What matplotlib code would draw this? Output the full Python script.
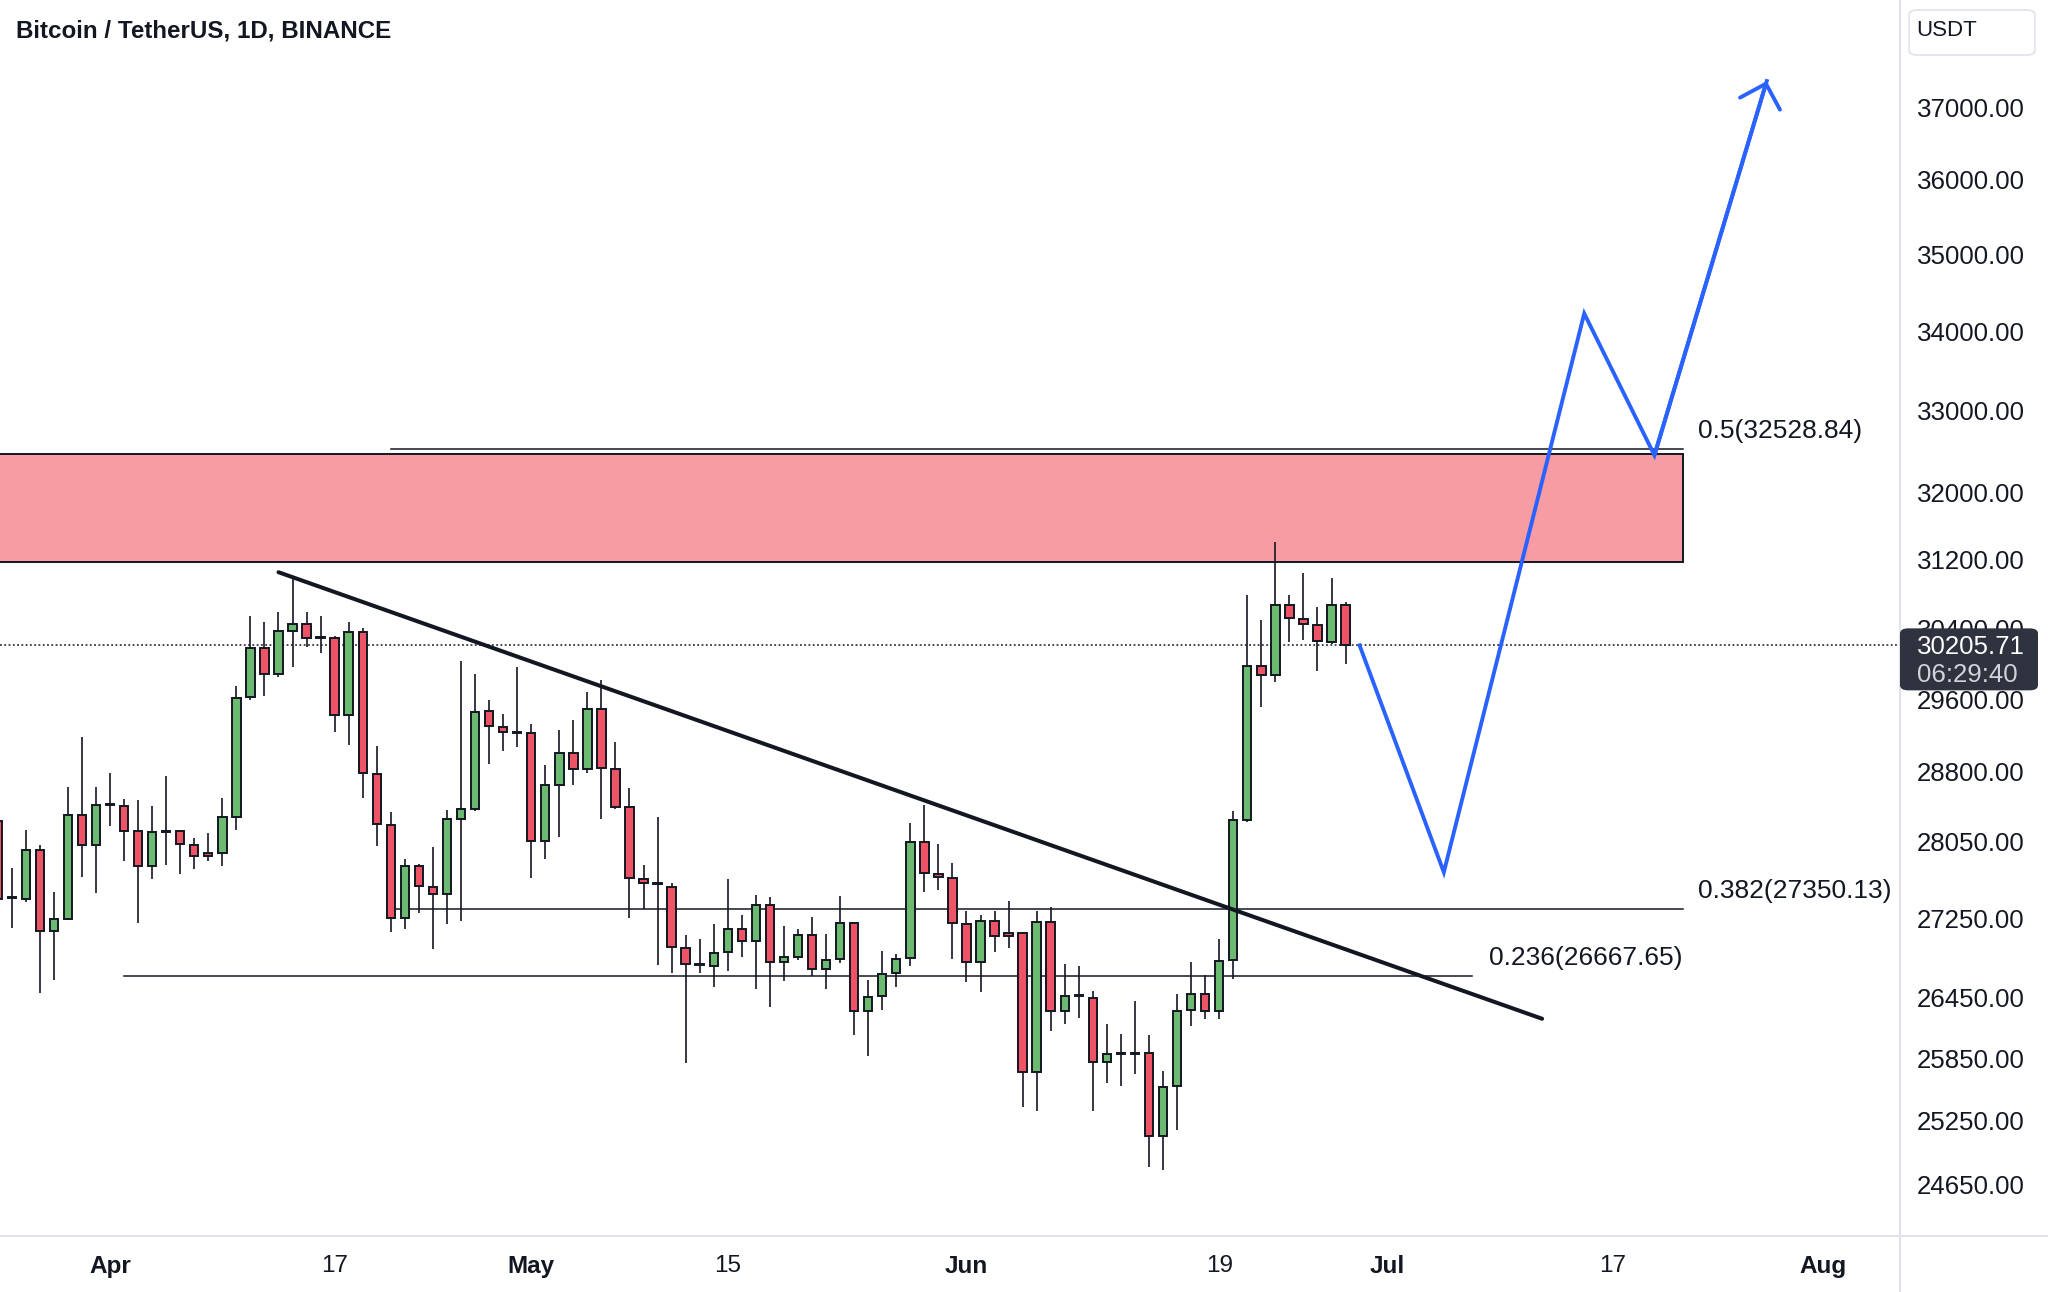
import numpy as np
import pandas as pd
import matplotlib
matplotlib.use('Agg')
import matplotlib.pyplot as plt
import matplotlib.dates as mdates
import matplotlib.ticker as mticker
from matplotlib.patches import Rectangle, FancyBboxPatch
from matplotlib.lines import Line2D

plt.rcParams['font.family'] = ['Liberation Sans', 'DejaVu Sans']

# daily candles, BTC/USDT
dates = pd.date_range('2023-03-24', '2023-06-28', freq='D')
opens = [28270, 27460, 27450, 27960, 27120, 27250, 28330, 28020, 28440, 28430,
         28160, 27800, 28150, 28160, 28020, 27930, 27930, 28310, 29620, 30180,
         29880, 30370, 30450, 30290, 30285, 29420, 30360, 28780, 28230, 27260,
         27800, 27580, 27505, 28290, 28400, 29470, 29295, 29220, 29220, 28060,
         28660, 29010, 28835, 29495, 28835, 28415, 27655, 27605, 27580, 26950,
         26780, 26765, 26905, 27145, 27020, 27390, 26810, 26860, 27085, 26735,
         26840, 27205, 26320, 26465, 26695, 26845, 28050, 27710, 27675, 27195,
         26810, 27230, 27100, 27100, 25720, 27210, 26320, 26465, 26450, 25820,
         25890, 25895, 25900, 25110, 25585, 26325, 26485, 26320, 26825, 28285,
         29970, 29870, 30670, 30510, 30440, 30245, 30670]
highs = [28330, 27770, 28180, 28020, 27520, 28630, 29180, 28640, 28790, 28510,
         28490, 28430, 28750, 28180, 28090, 28140, 28520, 29750, 30540, 30470,
         30590, 30980, 30590, 30540, 30310, 30475, 30400, 29080, 28365, 27870,
         27815, 27990, 28390, 30030, 29880, 29590, 29430, 29955, 29320, 28870,
         29260, 29370, 29675, 29815, 29125, 28625, 27805, 28315, 27615, 27080,
         27040, 27195, 27660, 27285, 27495, 27475, 27175, 27140, 27265, 27090,
         27480, 27215, 26625, 26915, 26890, 28245, 28440, 28025, 27825, 27325,
         27285, 27330, 27435, 27115, 27330, 27370, 26790, 26765, 26515, 26190,
         26090, 26415, 26075, 25730, 26485, 26810, 26675, 27045, 28380, 30790,
         30495, 31410, 30780, 31045, 30650, 30980, 30700]
lows = [27130, 27150, 27420, 26500, 26630, 27240, 27680, 27510, 28220, 27850,
        27200, 27660, 27810, 27710, 27760, 27850, 27800, 28175, 29590, 29630,
        29850, 29965, 30190, 30115, 29240, 29090, 28515, 28010, 27115, 27140,
        27310, 26935, 27195, 27230, 28380, 28885, 29030, 29075, 27665, 27865,
        28105, 28660, 28790, 28295, 28395, 27260, 27345, 26775, 26700, 25810,
        26695, 26560, 26720, 26855, 26540, 26360, 26620, 26825, 26665, 26535,
        26795, 26075, 25875, 26325, 26555, 26765, 27525, 27550, 26835, 26605,
        26505, 26910, 26945, 25385, 25345, 26115, 26190, 26250, 25345, 25615,
        25585, 25695, 24810, 24790, 25165, 26165, 26240, 26240, 26640, 28260,
        29510, 29795, 30245, 30270, 29920, 30225, 29995]
closes = [27450, 27470, 27960, 27120, 27250, 28330, 28020, 28440, 28455, 28160,
          27800, 28150, 28165, 28030, 27900, 27900, 28310, 29610, 30180, 29880,
          30370, 30450, 30290, 30300, 29420, 30360, 28790, 28240, 27260, 27800,
          27590, 27505, 28290, 28400, 29460, 29300, 29230, 29230, 28060, 28655,
          29010, 28835, 29495, 28840, 28420, 27665, 27615, 27615, 26955, 26790,
          26785, 26900, 27145, 27020, 27390, 26810, 26860, 27085, 26735, 26830,
          27205, 26320, 26460, 26690, 26840, 28050, 27725, 27685, 27205, 26810,
          27225, 27070, 27070, 25720, 27215, 26320, 26470, 26475, 25820, 25895,
          25900, 25905, 25110, 25575, 26320, 26485, 26320, 26820, 28285, 29975,
          29870, 30670, 30520, 30445, 30255, 30670, 30205.71]
last_price = 30205.71
countdown = '06:29:40'

# drawings
zone_dates = ['2023-03-01', '2023-07-22']
zone_low, zone_high = 31175, 32460
fib_names = ['0.5', '0.382']
fib_values = [32528.84, 27350.13]
fib_dates = ['2023-04-21', '2023-07-22']
fib236_value = 26667.65
fib236_dates = ['2023-04-02', '2023-07-07']
trend_dates = ['2023-04-13', '2023-07-12']
trend_prices = [31050, 26240]
path_dates = ['2023-06-29', '2023-07-05', '2023-07-15', '2023-07-20', '2023-07-28']
path_prices = [30205.71, 27730, 34230, 32450, 37365]

y_ticks = [24650, 25250, 25850, 26450, 27250, 28050, 28800, 29600, 30400,
           31200, 32000, 33000, 34000, 35000, 36000, 37000]
x_tick_dates = ['2023-04-01', '2023-04-17', '2023-05-01', '2023-05-15', '2023-06-01',
                '2023-06-19', '2023-07-01', '2023-07-17', '2023-08-01']
x_tick_labels = ['Apr', '17', 'May', '15', 'Jun', '19', 'Jul', '17', 'Aug']

GREEN = '#6cba6f'
RED = '#ef5466'
INK = '#131722'
GRID = '#e0e3eb'
BLUE = '#2962ff'

W, H = 2048, 1292
fig = plt.figure(figsize=(W / 100, H / 100), dpi=100)
ax = fig.add_axes([0, 1 - 1236 / H, 1900 / W, 1236 / H])
ax.set_yscale('log')

d = lambda s: mdates.date2num(pd.Timestamp(s))

x = mdates.date2num(dates)
o = np.array(opens, float)
h = np.array(highs, float)
l = np.array(lows, float)
c = np.array(closes, float)
colors = np.where(c >= o, GREEN, RED)

ax.vlines(x, l, h, color=INK, lw=1.2, zorder=3)
ax.bar(x, np.abs(c - o), width=0.6, bottom=np.minimum(o, c), color=colors,
       edgecolor=INK, linewidth=1.4, zorder=4)

# supply zone
ax.add_patch(Rectangle((d(zone_dates[0]), zone_low), d(zone_dates[1]) - d(zone_dates[0]),
                       zone_high - zone_low, facecolor='#f69ca2', edgecolor=INK,
                       lw=1.4, zorder=1))

# fib levels
for name, val in zip(fib_names, fib_values):
    ax.plot([d(fib_dates[0]), d(fib_dates[1])], [val, val], color=INK, lw=1.1, zorder=2)
    ax.annotate(f'{name}({val:.2f})', xy=(d(fib_dates[1]), val), xytext=(11.5, 13),
                textcoords='offset points', ha='left', va='center', fontsize=19,
                color=INK, annotation_clip=False)
ax.plot([d(fib236_dates[0]), d(fib236_dates[1])], [fib236_value] * 2, color=INK, lw=1.1, zorder=2)
ax.annotate(f'0.236({fib236_value:.2f})', xy=(d(fib236_dates[1]), fib236_value),
            xytext=(12, 13), textcoords='offset points', ha='left', va='center',
            fontsize=19, color=INK)

# trendline
ax.plot([d(s) for s in trend_dates], trend_prices, color=INK, lw=2.9,
        solid_capstyle='round', zorder=5)

# projected path
px = [d(s) for s in path_dates]
ax.plot(px, path_prices, color=BLUE, lw=2.8, solid_joinstyle='miter', zorder=6)
ax.annotate('', xy=(px[-1], path_prices[-1]), xytext=(px[-2], path_prices[-2]),
            arrowprops=dict(arrowstyle='->,head_length=0.5,head_width=0.5',
                            color=BLUE, lw=2.8, mutation_scale=30, shrinkA=0, shrinkB=0),
            zorder=6)

# last price line
ax.axhline(last_price, color=INK, lw=1.1, ls=(0, (1.2, 1.6)), zorder=2)

ax.set_xlim(d('2023-04-01') - 7.835, d('2023-04-01') + 127.49)
ax.set_ylim(24177, 38524)

ax.yaxis.tick_right()
ax.yaxis.set_major_locator(mticker.FixedLocator(y_ticks))
ax.yaxis.set_major_formatter(mticker.FixedFormatter([f'{v:.2f}' for v in y_ticks]))
ax.yaxis.set_minor_locator(mticker.NullLocator())
ax.yaxis.set_minor_formatter(mticker.NullFormatter())
ax.tick_params(axis='y', length=0, pad=12.2, labelsize=18.6, labelcolor=INK)

ax.set_xticks([d(s) for s in x_tick_dates])
ax.set_xticklabels(x_tick_labels)
ax.tick_params(axis='x', length=0, pad=13.5, labelsize=17.5, labelcolor=INK)
for lab in ax.get_xticklabels():
    if not lab.get_text().isdigit():
        lab.set_fontweight('bold')

for s in ax.spines.values():
    s.set_visible(False)

# panel separators
fig.add_artist(Line2D([1900 / W] * 2, [0, 1], transform=fig.transFigure, color=GRID, lw=1.5))
fig.add_artist(Line2D([0, 1], [1 - 1236 / H] * 2, transform=fig.transFigure, color=GRID, lw=1.5))

# title
fig.text(16 / W, 1 - 31 / H, 'Bitcoin / TetherUS, 1D, BINANCE', fontsize=17.4,
         fontweight='bold', color=INK, va='center', ha='left')

# currency box
fig.add_artist(FancyBboxPatch((1909 / W, 1 - 55 / H), 126 / W, 45 / H,
                              boxstyle='round,pad=0,rounding_size=0.004',
                              transform=fig.transFigure, facecolor='white',
                              edgecolor=GRID, lw=1.2))
fig.text(1916 / W, 1 - 30 / H, 'USDT', fontsize=16, color=INK, va='center', ha='left')

# last price tag
fig.canvas.draw()
y_pix = ax.transData.transform((x[-1], last_price))[1]
y_top = H - y_pix
fig.add_artist(FancyBboxPatch((1900 / W, 1 - (y_top + 45) / H), 138 / W, 62 / H,
                              boxstyle='round,pad=0,rounding_size=0.004',
                              transform=fig.transFigure, facecolor='#2f3340',
                              edgecolor='none', zorder=10))
fig.text(1917 / W, 1 - (y_top + 2) / H, f'{last_price:.2f}', fontsize=18.6,
         color='white', va='center', ha='left', zorder=11)
fig.text(1917 / W, 1 - (y_top + 30) / H, countdown, fontsize=18.6,
         color='#d1d4dc', va='center', ha='left', zorder=11)

fig.savefig('out.png', dpi=100, facecolor='white')
